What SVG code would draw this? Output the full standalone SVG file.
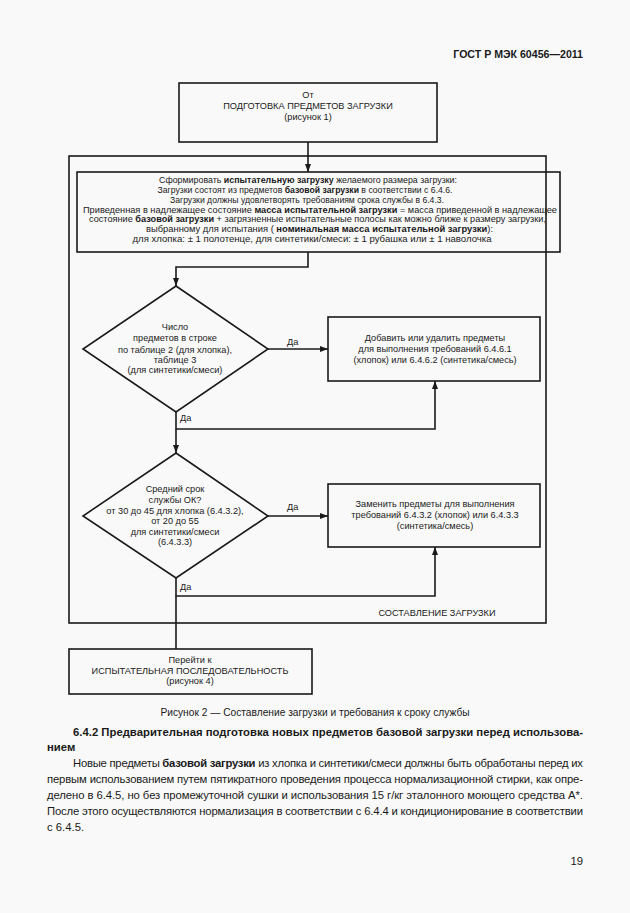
<svg xmlns="http://www.w3.org/2000/svg" width="630" height="913" viewBox="0 0 630 913">
<style>
text{font-family:"Liberation Sans",Arial,sans-serif;fill:#1a1a1a}
.d{font-size:9.2px;text-anchor:middle}
.f{font-size:9px}
.b{font-weight:bold}
.p{font-size:11.3px}
.box{fill:none;stroke:#1a1a1a;stroke-width:1.6}
.ln{fill:none;stroke:#1a1a1a;stroke-width:1.6}
</style>
<defs>
<marker id="ah" markerUnits="userSpaceOnUse" markerWidth="8" markerHeight="6" refX="8" refY="3" orient="auto">
<path d="M0,0 L8,3 L0,6 z" fill="#1a1a1a"/>
</marker>
</defs>
<rect width="630" height="913" fill="#f9f9f9"/>
<text x="583" y="58" class="b" font-size="10.6" text-anchor="end">ГОСТ Р МЭК 60456—2011</text>

<g id="frame">
<rect x="69" y="156" width="477" height="467" class="box"/>
<text x="437" y="616" class="d">СОСТАВЛЕНИЕ ЗАГРУЗКИ</text>
</g>

<g id="start">
<rect x="179" y="83" width="258" height="59" class="box"/>
<text class="d" x="308" y="98">От</text>
<text class="d" x="308" y="109">ПОДГОТОВКА ПРЕДМЕТОВ ЗАГРУЗКИ</text>
<text class="d" x="308" y="120">(рисунок 1)</text>
</g>

<g id="form">
<rect x="77" y="172" width="483" height="80" class="box" stroke-width="2.2"/>
<text class="d f" x="308" y="183" textLength="298" lengthAdjust="spacingAndGlyphs">Сформировать <tspan class="b">испытательную загрузку</tspan> желаемого размера загрузки:</text>
<text class="d f" x="305" y="193" textLength="295" lengthAdjust="spacingAndGlyphs">Загрузки состоят из предметов <tspan class="b">базовой загрузки</tspan> в соответствии с 6.4.6.</text>
<text class="d f" x="307" y="203" textLength="274" lengthAdjust="spacingAndGlyphs">Загрузки должны удовлетворять требованиям срока службы в 6.4.3.</text>
<text class="d f" x="320" y="212.5" textLength="474" lengthAdjust="spacingAndGlyphs">Приведенная в надлежащее состояние <tspan class="b">масса испытательной загрузки</tspan> = масса приведенной в надлежащее</text>
<text class="d f" x="317.5" y="222" textLength="457" lengthAdjust="spacingAndGlyphs">состояние <tspan class="b">базовой загрузки</tspan> + загрязненные испытательные полосы как можно ближе к размеру загрузки,</text>
<text class="d f" x="319.5" y="232" textLength="347" lengthAdjust="spacingAndGlyphs">выбранному для испытания ( <tspan class="b">номинальная масса испытательной загрузки</tspan>):</text>
<text class="d f" x="312" y="242" textLength="359" lengthAdjust="spacingAndGlyphs">для хлопка: ± 1 полотенце, для синтетики/смеси: ± 1 рубашка или ± 1 наволочка</text>
</g>

<g id="dec1">
<polygon points="176,286 268,349 176,412 83,349" class="box"/>
<text class="d" x="175" y="330">Число</text>
<text class="d" x="175" y="341">предметов в строке</text>
<text class="d" x="175" y="353">по таблице 2 (для хлопка),</text>
<text class="d" x="175" y="363">таблице 3</text>
<text class="d" x="175" y="373">(для синтетики/смеси)</text>
</g>

<g id="adjust">
<rect x="328" y="317" width="212" height="64" class="box"/>
<text class="d" x="435" y="341">Добавить или удалить предметы</text>
<text class="d" x="435" y="352">для выполнения требований 6.4.6.1</text>
<text class="d" x="435" y="363">(хлопок) или 6.4.6.2 (синтетика/смесь)</text>
</g>

<g id="dec2">
<polygon points="176,453 268,516 176,578 83,516" class="box"/>
<text class="d" x="175" y="492">Средний срок</text>
<text class="d" x="175" y="503">службы ОК?</text>
<text class="d" x="175" y="514">от 30 до 45 для хлопка (6.4.3.2),</text>
<text class="d" x="175" y="524">от 20 до 55</text>
<text class="d" x="175" y="535">для синтетики/смеси</text>
<text class="d" x="175" y="545">(6.4.3.3)</text>
</g>

<g id="replace">
<rect x="328" y="484" width="212" height="63" class="box"/>
<text class="d" x="435" y="507">Заменить предметы для выполнения</text>
<text class="d" x="435" y="518">требований 6.4.3.2 (хлопок) или 6.4.3.3</text>
<text class="d" x="435" y="529">(синтетика/смесь)</text>
</g>

<g id="end">
<rect x="69" y="649" width="243" height="45" class="box"/>
<text class="d" x="190" y="663">Перейти к</text>
<text class="d" x="190" y="674">ИСПЫТАТЕЛЬНАЯ ПОСЛЕДОВАТЕЛЬНОСТЬ</text>
<text class="d" x="190" y="684">(рисунок 4)</text>
</g>

<g id="connectors">
<path d="M308,142 V172" class="ln" marker-end="url(#ah)"/>
<path d="M308,252 V267 H176 V286" class="ln" marker-end="url(#ah)"/>
<path d="M268,349 H328" class="ln" marker-end="url(#ah)"/>
<path d="M176,412 V429 H435 V381" class="ln" marker-end="url(#ah)"/>
<path d="M176,429 V453" class="ln" marker-end="url(#ah)"/>
<path d="M268,516 H328" class="ln" marker-end="url(#ah)"/>
<path d="M176,578 V596 H435 V547" class="ln" marker-end="url(#ah)"/>
<path d="M176,596 V649" class="ln"/>
<text x="287" y="345" font-size="9.2">Да</text>
<text x="180" y="421" font-size="9.2">Да</text>
<text x="287" y="510" font-size="9.2">Да</text>
<text x="180" y="590" font-size="9.2">Да</text>
</g>

<text x="315" y="716" font-size="10.2" text-anchor="middle">Рисунок 2 — Составление загрузки и требования к сроку службы</text>
<text x="73" y="736" class="p b" textLength="510" lengthAdjust="spacing">6.4.2 Предварительная подготовка новых предметов базовой загрузки перед использова-</text>
<text x="47" y="751" class="p b">нием</text>
<text x="73" y="767" class="p" textLength="510" lengthAdjust="spacing">Новые предметы <tspan class="b">базовой загрузки</tspan> из хлопка и синтетики/смеси должны быть обработаны перед их</text>
<text x="47" y="783" class="p" textLength="536" lengthAdjust="spacing">первым использованием путем пятикратного проведения процесса нормализационной стирки, как опре-</text>
<text x="47" y="799" class="p" textLength="536" lengthAdjust="spacing">делено в 6.4.5, но без промежуточной сушки и использования 15 г/кг эталонного моющего средства А*.</text>
<text x="47" y="815" class="p" textLength="536" lengthAdjust="spacing">После этого осуществляются нормализация в соответствии с 6.4.4 и кондиционирование в соответствии</text>
<text x="47" y="831" class="p">с 6.4.5.</text>
<text x="583" y="865" class="p" text-anchor="end">19</text>
</svg>
